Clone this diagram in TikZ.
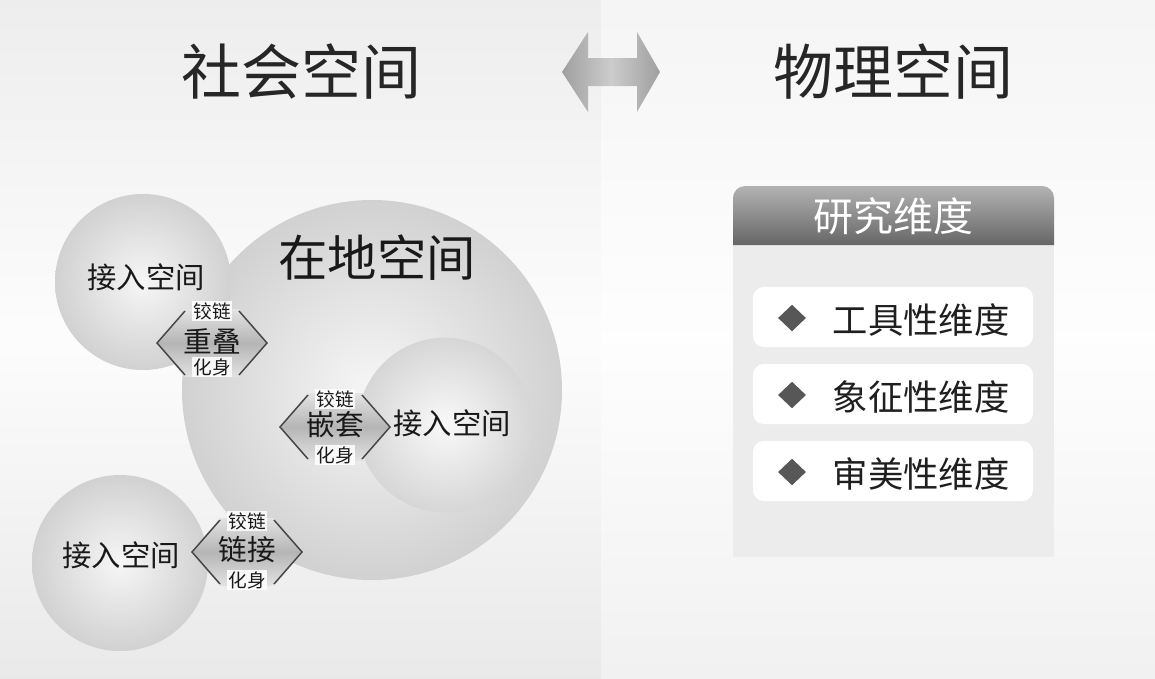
\documentclass[tikz,border=0pt]{standalone}
\usepackage{fontspec}
\setmainfont{Noto Sans CJK SC}
\usetikzlibrary{shapes.geometric,calc}
\tikzset{
  title/.style={font=\fontsize{45}{50}\selectfont, text=black!85},
  ball/.style={circle, inner sep=0pt, shading=radial, inner color=gray!7, outer color=gray!36},
  balltext/.style={font=\fontsize{22}{24}\selectfont, text=black!90},
  hmain/.style={font=\fontsize{21.5}{23}\selectfont, inner sep=0pt, text=black!90},
  hsmall/.style={font=\fontsize{14}{15}\selectfont, fill=white, fill opacity=0.85, text opacity=1, inner sep=1.2pt, text=black!90},
  hexline/.style={draw=gray!55!black, line width=1.1pt},
  itembox/.style={fill=white, rounded corners=8pt},
  bullet/.style={diamond, fill=gray!68!black, inner sep=0pt, minimum width=21pt, minimum height=20pt},
  itemtext/.style={font=\fontsize{26.5}{28}\selectfont, anchor=west, text=black!88}
}
% #1 name, #2 x, #3 y, #4 main text, #5 top offset, #6 bottom offset
\newcommand\hingebox[6]{%
  \coordinate (#1) at (#2,#3);
  \begin{scope}[shift={(#1)}]
    \shade[top color=gray!22, bottom color=gray!22, middle color=gray!58]
      (-55,0) -- (-27,-34) -- (27,-34) -- (55,0) -- (27,34) -- (-27,34) -- cycle;
    \draw[hexline] (-27,-32) -- (-55,0) -- (-27,32);
    \draw[hexline] (27,-32) -- (55,0) -- (27,32);
  \end{scope}
  \node[hsmall] (#1t) at ($(#1)+(0,#5)$) {铰链};
  \node[hsmall] (#1b) at ($(#1)+(0,#6)$) {化身};
  \node[hmain] (#1m) at ($(#1)+(0,-2)$) {#4};
}
\begin{document}
\begin{tikzpicture}[x=0.75pt,y=-0.75pt]
\useasboundingbox (0,0) rectangle (1155,678);
% backgrounds
\shade[top color=gray!14, bottom color=gray!17, middle color=gray!2] (0,0) rectangle (601,678);
\shade[top color=gray!8, bottom color=gray!11, middle color=gray!1] (601,0) rectangle (1155,678);

% titles and double arrow
\node[title] (soc) at (301,72) {社会空间};
\node[title] (phy) at (893,72) {物理空间};
\shade[left color=gray!75, right color=gray!75, middle color=gray!40]
  (562,72) -- (588,32) -- (588,58) -- (637,58) -- (637,32) -- (660,72)
  -- (637,112) -- (637,86) -- (588,86) -- (588,112) -- cycle;

% spheres
\node[ball, minimum size=285pt] (local) at (372,390) {};
\node[ball, minimum size=132pt] (ul) at (143,282) {};
\node[ball, minimum size=131pt, inner color=gray!5, outer color=gray!32] (inner) at (445,425) {};
\node[ball, minimum size=132pt] (bl) at (120,563) {};

\node[font=\fontsize{37}{40}\selectfont, text=black!90] (localt) at (377,258) {在地空间};
\node[balltext] (ult) at (146,277) {接入空间};
\node[balltext] (innert) at (452,423) {接入空间};
\node[balltext] (blt) at (121,555) {接入空间};

% hinges
\hingebox{h1}{212}{343}{重叠}{-32}{24}
\hingebox{h2}{335}{427}{嵌套}{-28}{28}
\hingebox{h3}{247}{552}{链接}{-31}{28}

% right panel
\fill[gray!15] (733,245) rectangle (1054,557);
\shade[top color=gray!60, bottom color=gray!80!black]
  (733,245) {[rounded corners=9pt] -- (733,186) -- (1054,186)} -- (1054,245) -- cycle;
\node[font=\fontsize{30}{32}\selectfont, text=white] (dimt) at (893,216) {研究维度};

\fill[itembox] (753,287) rectangle (1033,347);
\fill[itembox] (753,364) rectangle (1033,424);
\fill[itembox] (753,441) rectangle (1033,501);
\node[bullet] (b1) at (792,318) {};
\node[bullet] (b2) at (792,395) {};
\node[bullet] (b3) at (792,472) {};
\node[itemtext] (i1) at (828,320) {工具性维度};
\node[itemtext] (i2) at (828,397) {象征性维度};
\node[itemtext] (i3) at (828,474) {审美性维度};
\end{tikzpicture}
\end{document}
